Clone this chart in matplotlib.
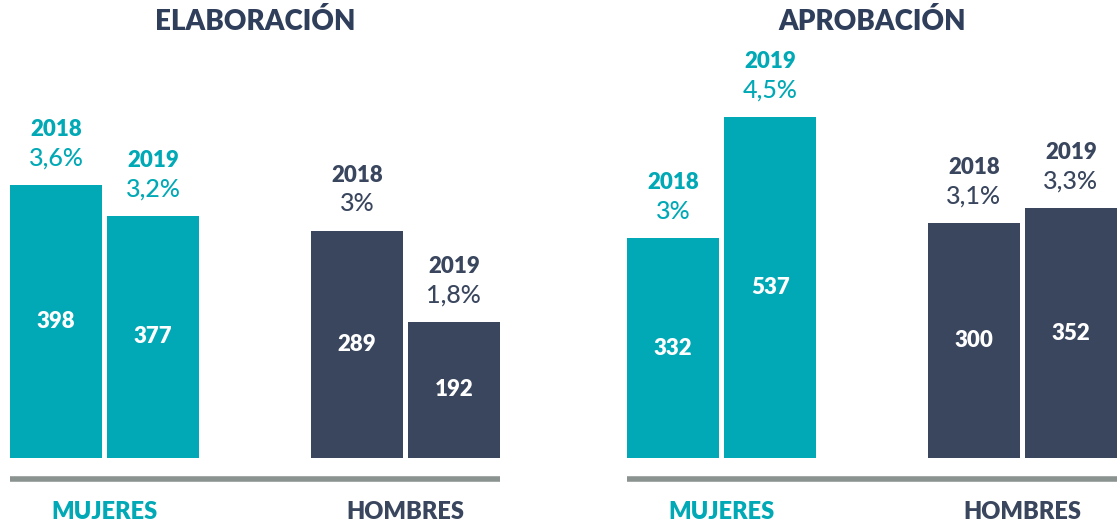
import matplotlib.pyplot as plt

plt.rcParams['font.family'] = ['Lato', 'DejaVu Sans']

panels = ['ELABORACIÓN', 'APROBACIÓN']
groups = ['MUJERES', 'HOMBRES']
years = ['2018', '2019']

# bar heights (share %), shown percentage labels and counts inside bars
elab_pct = [3.6, 3.2, 3.0, 1.8]
elab_pct_lbl = ['3,6%', '3,2%', '3%', '1,8%']
elab_count = [398, 377, 289, 192]

apro_pct = [2.9, 4.5, 3.1, 3.3]
apro_pct_lbl = ['3%', '4,5%', '3,1%', '3,3%']
apro_count = [332, 537, 300, 352]

teal = '#00A9B5'
navy = '#39465E'
gray = '#8A9390'
title_col = '#2F3E5A'

W, H = 1117, 526
fig = plt.figure(figsize=(W / 100, H / 100), dpi=100)

bottom_px = 458
top_px = 40
px_per_unit = 75.7
ymax = (bottom_px - top_px) / px_per_unit

pos = [0, 1, 3.1, 4.1]
width = 0.95
colors = [teal, teal, navy, navy]

lefts = [10, 627]
span = 490

data = [(elab_pct, elab_pct_lbl, elab_count), (apro_pct, apro_pct_lbl, apro_count)]

for k in range(2):
    pct, lbl, cnt = data[k]
    ax = fig.add_axes([lefts[k] / W, (H - bottom_px) / H, span / W, (bottom_px - top_px) / H])
    ax.bar(pos, pct, width=width, color=colors)
    ax.set_xlim(-width / 2, pos[-1] + width / 2)
    ax.set_ylim(0, ymax)
    ax.axis('off')

    for i in range(4):
        c = colors[i]
        ax.annotate(years[i % 2], (pos[i], pct[i]), xytext=(0, 40), textcoords='offset points',
                    ha='center', va='center', fontsize=16, fontweight='heavy', color=c)
        ax.annotate(lbl[i], (pos[i], pct[i]), xytext=(0, 19.5), textcoords='offset points',
                    ha='center', va='center', fontsize=18, fontweight='medium', color=c)
        ax.text(pos[i], pct[i] / 2, str(cnt[i]), ha='center', va='center',
                fontsize=16, fontweight='heavy', color='white')

    # baseline under bars
    ax.axhline(-21 / px_per_unit, color=gray, lw=4, clip_on=False, solid_capstyle='butt')

    # group labels
    for g in range(2):
        cx = (pos[2 * g] + pos[2 * g + 1]) / 2
        ax.text(cx, -54 / px_per_unit, groups[g], ha='center', va='center',
                fontsize=17, fontweight='heavy', color=[teal, navy][g], clip_on=False)

    xmid = (ax.get_xlim()[0] + ax.get_xlim()[1]) / 2
    ax.text(xmid, (bottom_px - 22) / px_per_unit, panels[k],
            ha='center', va='center', fontsize=20, fontweight='heavy', color=title_col, clip_on=False)

fig.savefig('out.png', dpi=100)
